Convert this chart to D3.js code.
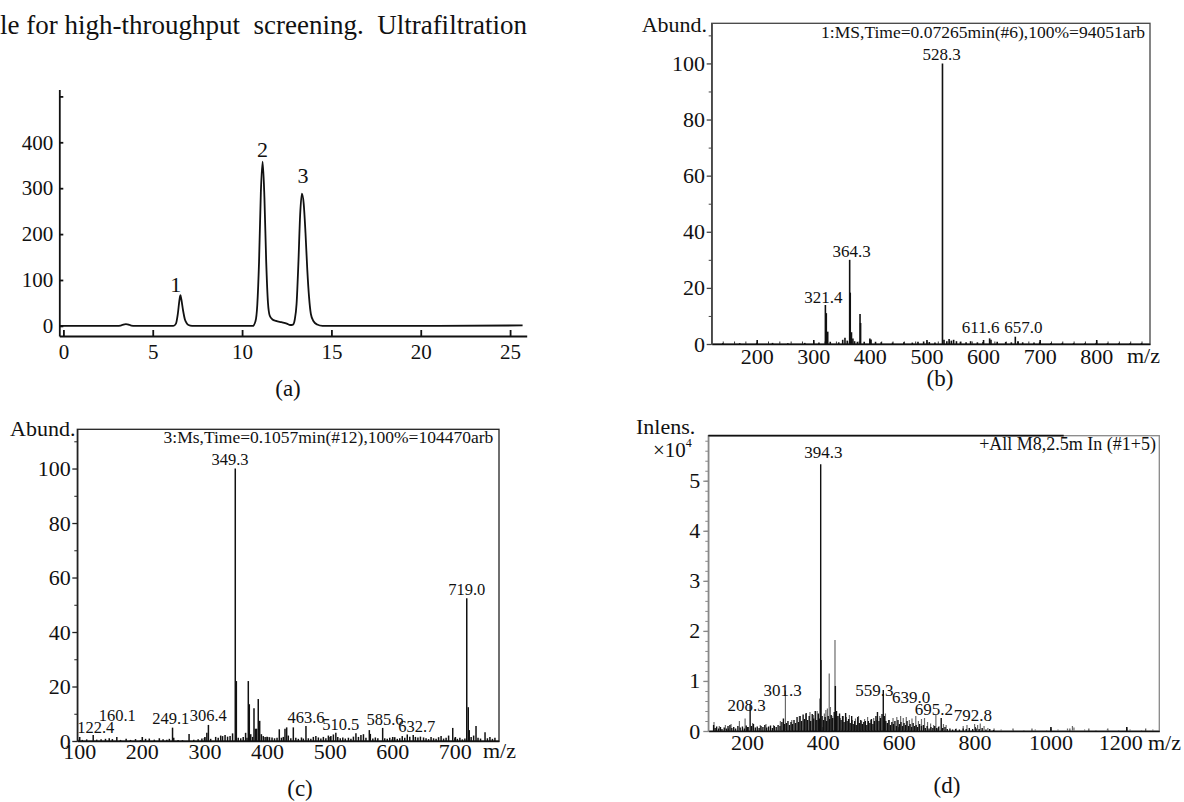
<!DOCTYPE html>
<html>
<head>
<meta charset="utf-8">
<script src="https://cdn.jsdelivr.net/npm/d3@7"></script>
<style>
body { margin: 0; background: #fff; }
svg { display: block; }
text { fill: #111; font-family: "Liberation Serif", "Times New Roman", serif; }
</style>
</head>
<body>
<div id="chart"></div>
<script>
// ---- (a) chromatogram ----
var timeMin = [-0.2, 3.0, 3.2, 3.35, 3.5, 3.65, 3.8, 4.0, 6.15, 6.3, 6.4, 6.5, 6.55, 6.6, 6.7, 6.8, 6.9, 7.0, 7.2,
  10.6, 10.75, 10.85, 10.95, 11.05, 11.15, 11.25, 11.35, 11.45, 11.55, 11.7, 11.9, 12.2, 12.5, 12.7,
  12.85, 12.95, 13.05, 13.15, 13.25, 13.35, 13.45, 13.55, 13.65, 13.75, 13.85, 14.0, 14.2, 14.5, 21.0, 25.7];
var signal = [0, 0, 0.5, 3, 4, 3, 0.5, 0, 0, 5, 25, 58, 67, 58, 33, 14, 6, 2, 0,
  0, 10, 45, 140, 290, 358, 280, 140, 50, 22, 14, 11, 8, 5, 2,
  3, 14, 48, 135, 242, 288, 266, 202, 122, 62, 26, 10, 3, 0, 0, 1];
var peakNames = ["1", "2", "3"];
var peakNameAt = [[6.29, 74], [11.14, 368], [13.41, 312]];
var timeTicks = [0, 5, 10, 15, 20, 25];
var signalTicks = [0, 100, 200, 300, 400, 500];

// ---- (b) spectrum ----
var bPeaks = [[140, 0.3], [170, 0.3], [200, 0.3], [228, 0.4], [255, 0.3], [285, 0.4], [310, 0.5],
  [321.4, 13.9], [323.0, 11], [325.5, 4.4], [330, 0.8], [345, 0.6], [352, 1.5], [356, 2.2], [360, 1.2],
  [364.3, 30], [365.3, 18.3], [367.5, 4.2], [370, 2.0], [373, 1.0], [378, 0.8], [382.6, 10.7], [383.6, 7.5],
  [390, 0.8], [400, 2.0], [402, 1.6], [410, 0.8], [420, 0.6], [440, 0.5], [460, 0.6], [475, 0.5], [485, 0.8],
  [495, 0.9], [505, 0.7], [515, 0.5], [528.3, 100], [531, 1.5], [536, 1.0], [540, 1.8], [544, 1.2], [548, 1.5],
  [553, 1.0], [560, 0.8], [570, 0.6], [578, 1.0], [590, 0.6], [600, 0.7], [611.6, 2.0], [614, 1.5], [625, 0.8],
  [640, 0.7], [650, 0.6], [657.0, 2.6], [662, 1.0], [670, 0.6], [690, 0.5], [700, 0.6], [720, 0.4], [740, 0.4],
  [760, 0.3], [780, 0.3], [800, 0.4], [820, 0.3], [840, 0.3], [860, 0.3], [880, 0.3]];
var bLabels = ["321.4", "364.3", "528.3", "611.6", "657.0"];
var bLabelAt = [[317.7, 14.5], [367.9, 30.9], [527, 101.2], [595.8, 3.8], [671.1, 3.8]];
var bTitle = "1:MS,Time=0.07265min(#6),100%=94051arb";
var bMzTicks = [200, 300, 400, 500, 600, 700, 800];
var abundTicks = [0, 20, 40, 60, 80, 100];

// ---- (c) spectrum ----
var cPeaks = [[100, 0.5], [105, 0.4], [112, 0.6], [122.4, 2.2], [128, 0.5], [135, 0.6], [142, 0.8], [148, 1.0],
  [153, 0.7], [160.1, 1.5], [166, 0.4], [175, 0.8], [182, 0.4], [190, 0.7], [198, 0.3], [206, 0.8], [212, 0.9],
  [220, 0.5], [228, 1.0], [234, 0.6], [240, 0.5], [244, 0.8], [249.1, 4.9], [251, 1.2], [258, 0.4], [265, 0.3],
  [275.5, 2.6], [283, 0.5], [290, 0.6], [296, 0.9], [300, 1.1], [303.9, 3.0], [306.4, 5.9], [310, 0.8], [318, 1.5],
  [322, 1.2], [326, 2.0], [329, 1.8], [333, 2.2], [337, 1.6], [341, 1.8], [345, 2.8], [349.3, 100], [351.0, 22],
  [354, 1.2], [358, 1.0], [362, 1.5], [365.8, 3.0], [368, 1.2], [370.1, 22], [371.7, 13.5], [374, 2.5], [377, 1.5],
  [379.2, 12], [381.5, 4.5], [383.4, 4.5], [386, 15.4], [388.3, 7.4], [391, 2.5], [394, 1.8], [397, 1.5], [400, 1.6],
  [404, 1.4], [408, 1.3], [412, 1.0], [416, 1.2], [419.6, 4.3], [423, 1.2], [426, 1.5], [428.7, 4.5], [431.4, 5.0],
  [434, 2.0], [438, 1.0], [442, 5.0], [446, 1.2], [450, 0.8], [455, 1.3], [458, 0.9], [462.2, 5.5], [466, 1.0],
  [470, 0.8], [474, 1.5], [478, 1.8], [482, 1.3], [486, 0.9], [490, 1.5], [494, 1.0], [498, 2.0], [502, 1.8],
  [506, 2.4], [509.9, 3.0], [513, 1.5], [517, 1.0], [521, 1.3], [525, 0.9], [530, 1.2], [534, 0.8], [538, 1.6],
  [542, 2.8], [546, 1.5], [550, 2.2], [554, 2.5], [558, 1.2], [563.4, 4.0], [565, 2.6], [569, 0.9], [573, 1.3],
  [577, 1.0], [584.7, 4.8], [588, 1.0], [592, 0.8], [596, 1.2], [600, 0.6], [604, 1.4], [608, 0.8], [612, 1.0],
  [616, 1.8], [620, 1.2], [624, 2.4], [628, 1.6], [633.5, 2.2], [637, 1.5], [641, 1.3], [645, 1.6], [650, 1.3],
  [654, 1.0], [658, 0.7], [662, 1.5], [666, 1.0], [670, 0.8], [674, 1.4], [678, 1.8], [682, 0.9], [686, 1.2],
  [690, 2.0], [696.6, 4.8], [700, 1.0], [704, 0.8], [708, 1.2], [712, 0.6], [716, 0.9], [719.0, 52.4], [721.4, 12.4],
  [723, 4.0], [726, 1.5], [730, 2.0], [733.8, 5.5], [737, 1.2], [741, 0.9], [748.2, 3.2], [752, 1.0], [756, 1.5],
  [760, 0.8], [764, 1.2]];
var cLabels = ["349.3", "719.0", "122.4", "160.1", "249.1", "306.4", "463.6", "510.5", "585.6", "632.7"];
var cLabelAt = [[340.9, 101.3], [719, 53.6], [126.4, 3.0], [160.9, 7.4], [246.2, 6.2], [306.2, 7.4],
  [462.3, 6.7], [517.7, 4.0], [588.5, 5.9], [639.1, 3.2]];
var cTitle = "3:Ms,Time=0.1057min(#12),100%=104470arb";
var cMzTicks = [100, 200, 300, 400, 500, 600, 700];

// ---- (d) spectrum (x10^4), two traces ----
var dBlack = [[112, 0.12], [116, 0.06], [120, 0.09], [125, 0.05], [130, 0.08], [134, 0.04], [140, 0.07], [146, 0.05],
  [150, 0.1], [155, 0.12], [160, 0.06], [165, 0.08], [170, 0.05], [176, 0.1], [182, 0.07], [188, 0.09], [193, 0.05],
  [198, 0.11], [203, 0.08], [208.3, 0.52], [212, 0.1], [217, 0.14], [222, 0.07], [227, 0.09], [232, 0.06], [237, 0.1],
  [242, 0.08], [247, 0.12], [252, 0.07], [257, 0.09], [262, 0.11], [267, 0.06], [272, 0.1], [277, 0.08], [282, 0.12],
  [287, 0.1], [292, 0.18], [296, 0.25], [299, 0.14], [304, 0.16], [308, 0.2], [312, 0.12], [316, 0.18], [320, 0.14],
  [324, 0.22], [328, 0.16], [332, 0.28], [336, 0.18], [340, 0.3], [344, 0.2], [348, 0.33], [352, 0.24], [356, 0.36],
  [360, 0.22], [364, 0.3], [368, 0.2], [372, 0.34], [376, 0.25], [380, 0.4], [384, 0.22], [388, 0.35], [391, 0.25],
  [393, 0.65], [394.3, 5.33], [395, 1.42], [398, 0.3], [402, 0.22], [406, 0.28], [410, 0.2], [414, 0.3], [418, 0.24],
  [422, 0.32], [426, 0.26], [430, 0.38], [433, 0.9], [436, 0.4], [440, 0.3], [444, 0.35], [448, 0.22], [452, 0.3],
  [456, 0.18], [460, 0.36], [464, 0.2], [468, 0.24], [472, 0.16], [476, 0.3], [480, 0.14], [484, 0.2], [488, 0.12],
  [492, 0.28], [496, 0.16], [500, 0.22], [504, 0.14], [508, 0.18], [512, 0.2], [516, 0.12], [520, 0.2], [524, 0.16],
  [528, 0.24], [532, 0.14], [536, 0.2], [540, 0.3], [544, 0.38], [548, 0.2], [552, 0.26], [556, 0.34], [559.3, 0.82],
  [562, 0.3], [566, 0.2], [570, 0.16], [574, 0.22], [578, 0.12], [582, 0.18], [586, 0.14], [590, 0.2], [594, 0.1],
  [598, 0.22], [602, 0.14], [606, 0.18], [610, 0.1], [614, 0.16], [618, 0.12], [622, 0.2], [626, 0.1], [630, 0.14],
  [634, 0.08], [638, 0.16], [642, 0.1], [646, 0.12], [650, 0.08], [655, 0.14], [660, 0.1], [665, 0.12], [670, 0.06],
  [675, 0.1], [680, 0.05], [685, 0.08], [690, 0.06], [695, 0.1], [700, 0.06], [705, 0.08], [712, 0.26], [716, 0.06],
  [722, 0.08], [728, 0.04], [735, 0.05], [742, 0.03], [750, 0.04], [760, 0.03], [770, 0.05], [778, 0.04], [786, 0.06],
  [795, 0.04], [804, 0.05], [812, 0.04], [820, 0.06], [830, 0.03], [840, 0.04], [850, 0.02]];
var dGray = [[113, 0.18], [127, 0.1], [143, 0.12], [158, 0.14], [180, 0.2], [195, 0.25], [215, 0.16], [235, 0.12],
  [250, 0.14], [270, 0.12], [288, 0.2], [301.3, 0.81], [318, 0.22], [338, 0.3], [355, 0.34], [366, 0.38], [375, 0.32],
  [385, 0.4], [404, 0.35], [408, 0.42], [412, 0.45], [416.8, 1.15], [420, 0.48], [424, 0.3], [432, 1.82], [438, 0.3],
  [446, 0.26], [454, 0.3], [462, 0.28], [470, 0.32], [478, 0.22], [486, 0.25], [494, 0.3], [502, 0.2], [510, 0.24],
  [518, 0.28], [526, 0.22], [534, 0.26], [542, 0.22], [550, 0.3], [565, 0.35], [575, 0.22], [585, 0.26], [595, 0.28],
  [605, 0.3], [612, 0.26], [620, 0.28], [628, 0.22], [635, 0.25], [645, 0.3], [652, 0.2], [660, 0.24], [668, 0.26],
  [676, 0.18], [684, 0.15], [692, 0.12], [698, 0.32], [706, 0.1], [718, 0.14], [725, 0.12], [770, 0.1], [780, 0.12],
  [800, 0.14], [808, 0.12], [815, 0.15], [825, 0.1], [835, 0.06], [870, 0.03], [900, 0.02], [930, 0.02], [960, 0.03],
  [990, 0.02], [1020, 0.03], [1045, 0.05], [1058, 0.1], [1062, 0.07], [1090, 0.03], [1120, 0.02], [1150, 0.03],
  [1180, 0.02], [1210, 0.03], [1240, 0.02], [1270, 0.03]];
var dLabels = ["394.3", "208.3", "301.3", "559.3", "639.0", "695.2", "792.8"];
var dLabelAt = [[401.2, 5.45], [199.2, 0.39], [294.2, 0.70], [535.6, 0.70], [632.4, 0.55], [692.5, 0.32], [795.3, 0.19]];
var dTitle = "+All M8,2.5m In (#1+5)";
var dMzTicks = [200, 400, 600, 800, 1000, 1200];
var intensTicks = [0, 1, 2, 3, 4, 5];

var bodyText = "le for high-throughput  screening.  Ultrafiltration";
var serif = "Liberation Serif, Times New Roman, serif";

var svg = d3.select("#chart").append("svg")
  .attr("width", 1184)
  .attr("height", 802)
  .attr("font-family", serif);

svg.append("rect").attr("width", 1184).attr("height", 802).attr("fill", "#fff");

svg.append("text")
  .attr("x", 0)
  .attr("y", 34)
  .attr("font-size", 27)
  .style("white-space", "pre")
  .text(bodyText);

function styleAxis(g, size, sw) {
  g.attr("font-family", serif).attr("font-size", size);
  g.selectAll("path, line").attr("stroke-width", sw).attr("stroke", "#111");
  g.selectAll("text").attr("fill", "#111");
}

// ================= (a) =================
var xA = d3.scaleLinear().domain([-0.23, 25.93]).range([59.3, 526.7]);
var yA = d3.scaleLinear().domain([-22, 515]).range([336, 89.5]);

var axA = svg.append("g")
  .attr("transform", "translate(0,336)")
  .call(d3.axisBottom(xA).tickValues(timeTicks).tickSizeInner(-6).tickSizeOuter(0).tickPadding(8));
styleAxis(axA, 21, 1.8);

var ayA = svg.append("g")
  .attr("transform", "translate(59.3,0)")
  .call(d3.axisLeft(yA).tickValues(signalTicks).tickSizeInner(-4).tickSizeOuter(0).tickPadding(6)
    .tickFormat(function(d) { return d === 500 ? "" : d; }));
styleAxis(ayA, 21, 1.8);

var lineA = d3.line()
  .x(function(d, i) { return xA(timeMin[i]); })
  .y(function(d) { return yA(d); })
  .curve(d3.curveMonotoneX);

svg.append("path")
  .datum(signal)
  .attr("d", lineA)
  .attr("fill", "none")
  .attr("stroke", "#111")
  .attr("stroke-width", 1.8);

svg.selectAll(".peakname")
  .data(peakNames)
  .enter()
  .append("text")
  .attr("class", "peakname")
  .attr("x", function(d, i) { return xA(peakNameAt[i][0]); })
  .attr("y", function(d, i) { return yA(peakNameAt[i][1]); })
  .attr("text-anchor", "middle")
  .attr("font-size", 22)
  .text(function(d) { return d; });

// ================= spectra (b), (c), (d) =================
function drawSpectrum(p) {
  var g = svg.append("g");
  var x = d3.scaleLinear().domain(p.xDomain).range(p.xRange);
  var y = d3.scaleLinear().domain(p.yDomain).range(p.yRange);

  // frame
  g.append("rect")
    .attr("x", p.xRange[0])
    .attr("y", p.yRange[1])
    .attr("width", p.xRange[1] - p.xRange[0])
    .attr("height", p.yRange[0] - p.yRange[1])
    .attr("fill", "none")
    .attr("stroke", p.frameColor)
    .attr("stroke-width", 1.3);

  // minor ticks
  g.append("g")
    .attr("transform", "translate(" + p.xRange[0] + ",0)")
    .call(d3.axisLeft(y).tickValues(p.yMinor).tickSize(3).tickFormat(""))
    .call(function(s) { s.select(".domain").remove(); s.selectAll("line").attr("stroke", p.frameColor); });
  g.append("g")
    .attr("transform", "translate(0," + p.yRange[0] + ")")
    .call(d3.axisBottom(x).tickValues(p.xMinor).tickSize(-2.5).tickFormat(""))
    .call(function(s) { s.select(".domain").remove(); s.selectAll("line").attr("stroke", "#333"); });

  var ax = g.append("g")
    .attr("transform", "translate(0," + p.yRange[0] + ")")
    .call(d3.axisBottom(x).tickValues(p.xTicks).tickSizeInner(-4).tickSizeOuter(0).tickPadding(p.xPad)
      .tickFormat(d3.format("d")));
  styleAxis(ax, p.tickFont, 1.6);

  var ay = g.append("g")
    .attr("transform", "translate(" + p.xRange[0] + ",0)")
    .call(d3.axisLeft(y).tickValues(p.yTicks).tickSizeInner(5).tickSizeOuter(0).tickPadding(p.yPad)
      .tickFormat(d3.format("d")));
  styleAxis(ay, p.tickFont, 1.3);
  ay.select(".domain").attr("stroke", p.frameColor);
  ay.selectAll("line").attr("stroke", p.frameColor);

  p.series.forEach(function(s) {
    g.append("g").selectAll("line")
      .data(s.data)
      .enter()
      .append("line")
      .attr("x1", function(d) { return x(d[0]); })
      .attr("x2", function(d) { return x(d[0]); })
      .attr("y1", y(0))
      .attr("y2", function(d) { return y(d[1]); })
      .attr("stroke", s.color)
      .attr("stroke-width", s.width);
  });

  g.selectAll(".plabel")
    .data(p.labels)
    .enter()
    .append("text")
    .attr("class", "plabel")
    .attr("x", function(d, i) { return x(p.labelAt[i][0]); })
    .attr("y", function(d, i) { return y(p.labelAt[i][1]); })
    .attr("text-anchor", "middle")
    .attr("font-size", p.labelFont)
    .text(function(d) { return d; });

  g.append("text")
    .attr("x", p.xRange[1] - p.titleInset)
    .attr("y", p.yRange[1] + p.titleDrop)
    .attr("text-anchor", "end")
    .attr("font-size", p.titleFont)
    .text(p.title);

  return { g: g, x: x, y: y };
}

// (b)
var pB = drawSpectrum({
  xDomain: [120.5, 895], xRange: [711.7, 1150],
  yDomain: [0, 114.3], yRange: [344, 23.3],
  frameColor: "#444",
  xTicks: bMzTicks, xMinor: d3.range(140, 895, 20), xPad: 4,
  yTicks: abundTicks, yMinor: [10, 30, 50, 70, 90, 110], yPad: 1.7,
  tickFont: 22,
  series: [{ data: bPeaks, color: "#111", width: 1.6 }],
  labels: bLabels, labelAt: bLabelAt, labelFont: 17,
  title: bTitle, titleFont: 17.5, titleInset: 5, titleDrop: 15
});
svg.append("text").attr("x", 641.7).attr("y", 31.7).attr("font-size", 22).text("Abund.");
svg.append("text").attr("x", 1127).attr("y", 363).attr("font-size", 22).text("m/z");

// (c)
var pC = drawSpectrum({
  xDomain: [97, 770.5], xRange: [77.3, 499],
  yDomain: [0, 114.4], yRange: [741, 429.3],
  frameColor: "#222",
  xTicks: cMzTicks, xMinor: [], xPad: 2.4,
  yTicks: abundTicks, yMinor: [10, 30, 50, 70, 90, 110], yPad: 1.6,
  tickFont: 22,
  series: [{ data: cPeaks, color: "#111", width: 1.5 }],
  labels: cLabels, labelAt: cLabelAt, labelFont: 16.5,
  title: cTitle, titleFont: 17.5, titleInset: 5.7, titleDrop: 14
});
svg.append("text").attr("x", 10).attr("y", 436).attr("font-size", 22).text("Abund.");
svg.append("text").attr("x", 483).attr("y", 758.3).attr("font-size", 22).text("m/z");

// (d)
var pD = drawSpectrum({
  xDomain: [98, 1287], xRange: [708.3, 1159.3],
  yDomain: [0, 5.9], yRange: [731, 435.7],
  frameColor: "#888",
  xTicks: dMzTicks, xMinor: d3.range(150, 1287, 50), xPad: 3.4,
  yTicks: intensTicks, yMinor: d3.range(0.2, 5.9, 0.2), yPad: 3,
  tickFont: 22,
  series: [{ data: dGray, color: "#6a6a6a", width: 1.2 }, { data: dBlack, color: "#111", width: 1.4 }],
  labels: dLabels, labelAt: dLabelAt, labelFont: 17,
  title: dTitle, titleFont: 18, titleInset: 3.3, titleDrop: 14.3
});
// the last tick label sits a little left of its tick in the reference
pD.g.selectAll(".tick text").filter(function(d) { return d === 1200; }).attr("dx", -6);
// dark upper edge over the left part of the frame
svg.append("line")
  .attr("x1", pD.x(98)).attr("x2", pD.x(1035))
  .attr("y1", pD.y(5.9)).attr("y2", pD.y(5.9))
  .attr("stroke", "#111").attr("stroke-width", 1.8);
svg.append("text").attr("x", 636).attr("y", 434).attr("font-size", 22).text("Inlens.");
var mult = svg.append("text").attr("x", 653).attr("y", 457).attr("font-size", 21);
mult.append("tspan").text("\u00d710");
mult.append("tspan").attr("dy", -10).attr("font-size", 12).text("4");
svg.append("text").attr("x", 1148).attr("y", 750).attr("font-size", 22).text("m/z");

// captions
var captions = ["(a)", "(b)", "(c)", "(d)"];
var captionAt = [[288, 396], [940, 386], [300, 796], [947, 793]];
svg.selectAll(".caption")
  .data(captions)
  .enter()
  .append("text")
  .attr("class", "caption")
  .attr("x", function(d, i) { return captionAt[i][0]; })
  .attr("y", function(d, i) { return captionAt[i][1]; })
  .attr("text-anchor", "middle")
  .attr("font-size", 23)
  .text(function(d) { return d; });
</script>
</body>
</html>
